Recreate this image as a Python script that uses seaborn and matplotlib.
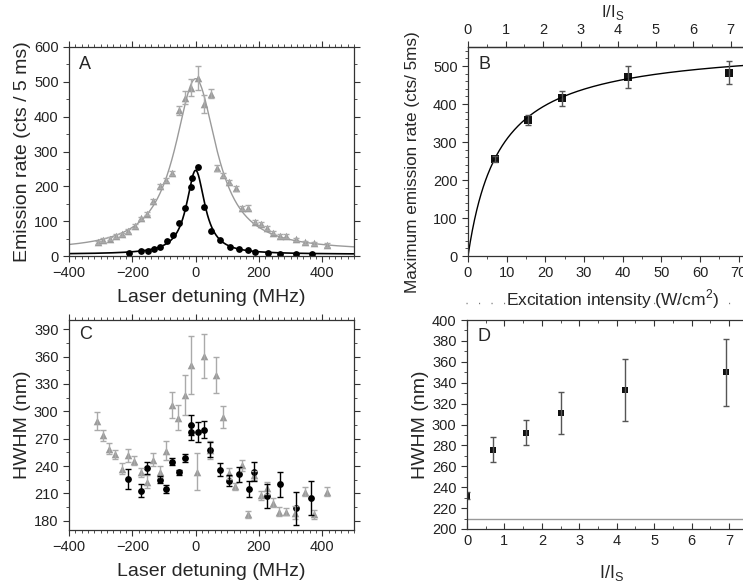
import numpy as np
import pandas as pd
import matplotlib
matplotlib.use("Agg")
import matplotlib.pyplot as plt
from matplotlib.ticker import MultipleLocator
from matplotlib.lines import Line2D
import seaborn as sns

# ---------------- data ----------------
# Panel A: emission rate vs detuning
a_black_x = [-212, -172, -152, -132, -112, -92, -73, -53, -33, -14, -12, 8, 27, 47, 77, 107, 137, 166, 187, 227, 267, 317, 366]
a_black_y = [8, 13, 15, 19, 27, 44, 59, 95, 139, 197, 223, 256, 141, 73, 47, 27, 20, 17, 12, 8, 7, 6, 5]
a_gray_x = [-309, -292, -272, -252, -233, -213, -193, -174, -154, -134, -113, -94, -74, -53, -33, -14, 6, 26, 47, 67, 87, 106, 126, 146, 166, 187, 206, 224, 245, 266, 285, 316, 345, 375, 414]
a_gray_y = [39, 46, 50, 57, 62, 72, 86, 108, 122, 159, 202, 218, 239, 418, 455, 483, 511, 436, 466, 253, 232, 213, 194, 138, 139, 99, 92, 80, 67, 57, 57, 48, 39, 36, 31]
a_gray_err = [5, 5, 5, 5, 5, 5, 5, 5, 5, 6, 6, 6, 6, 14, 20, 25, 35, 25, 12, 8, 6, 6, 6, 6, 6, 5, 5, 5, 5, 5, 5, 5, 5, 5, 5]
# Lorentzian fit parameters (amplitude, HWHM, offset)
a_black_fit = (241, 35, 5)
a_gray_fit = (495, 80, 14)

# Panel B: maximum emission rate vs intensity
b_int = [6.9, 15.6, 24.4, 41.3, 67.5]
b_rate = [255, 358, 415, 471, 482]
b_err = [8, 12, 20, 30, 30]
b_fit = (559, 8.2)          # Rmax, Isat (W/cm^2)
i_sat_axis = 9.7            # W/cm^2 per unit of I/Is

# Panel C: HWHM vs detuning
c_black_x = [-213, -173, -153, -113, -93, -74, -54, -33, -14, -14, 6, 26, 45, 77, 106, 137, 167, 185, 226, 266, 316, 365]
c_black_y = [226, 213, 238, 225, 215, 245, 233, 249, 285, 277, 277, 280, 258, 236, 224, 231, 215, 234, 207, 220, 194, 205]
c_black_err = [11, 7, 7, 4, 4, 4, 3, 4, 11, 8, 11, 9, 8, 7, 6, 8, 9, 10, 13, 14, 18, 19]
c_gray_x = [-313, -294, -274, -254, -234, -214, -194, -174, -154, -134, -114, -94, -75, -55, -35, -15, 5, 26, 45, 64, 85, 104, 124, 145, 166, 184, 205, 224, 245, 264, 284, 314, 344, 374, 414]
c_gray_y = [289, 274, 259, 253, 237, 252, 246, 233, 223, 247, 234, 257, 307, 293, 318, 351, 234, 361, 258, 340, 294, 232, 218, 241, 187, 230, 208, 216, 200, 190, 190, 189, 212, 187, 212]
c_gray_err = [10, 6, 6, 5, 6, 7, 5, 5, 7, 7, 6, 10, 14, 14, 22, 32, 20, 24, 10, 20, 12, 6, 4, 6, 4, 5, 5, 7, 5, 5, 4, 7, 5, 5, 5]

# Panel D: HWHM vs I/Is
d_x = [0.0, 0.70, 1.59, 2.51, 4.21, 6.93]
d_y = [232, 276, 292, 311, 333, 350]
d_err = [3, 12, 12, 20, 30, 32]
d_ref = 210

# ---------------- style ----------------
sns.set_style("ticks")
plt.rcParams["font.family"] = ["Liberation Sans", "DejaVu Sans"]
plt.rcParams["mathtext.fontset"] = "custom"
plt.rcParams["mathtext.rm"] = "Liberation Sans"
plt.rcParams["xtick.labelsize"] = 10.5
plt.rcParams["ytick.labelsize"] = 10.5
plt.rcParams["axes.linewidth"] = 0.9
plt.rcParams["axes.edgecolor"] = "#333333"

W, H = 743, 586
fig = plt.figure(figsize=(W / 100, H / 100), dpi=100)


def rect(l, t, r, b):
    return [l / W, 1 - b / H, (r - l) / W, (b - t) / H]


axA = fig.add_axes(rect(69, 47, 354, 256))
axB = fig.add_axes(rect(468, 47, 758, 256))
axC = fig.add_axes(rect(69, 320, 354, 530))
axD = fig.add_axes(rect(467, 320, 757, 529))

GRAY = "#9a9a9a"
EGRAY = "#aaaaaa"
XL = 14
YL = 14


def style(ax, top=True, right=True):
    ax.tick_params(which="both", direction="out", top=top, right=right, colors="#333333", labelcolor="#222222")
    ax.tick_params(which="major", length=4, width=0.8)
    ax.tick_params(which="minor", length=2, width=0.6)
    for s in ax.spines.values():
        s.set_visible(True)


def lorentz(x, p):
    a, g, c = p
    return a * g ** 2 / (x ** 2 + g ** 2) + c


# ---- Panel A ----
xs = np.linspace(-400, 500, 600)
sns.lineplot(x=xs, y=lorentz(xs, a_gray_fit), ax=axA, color=GRAY, lw=1.0)
sns.lineplot(x=xs, y=lorentz(xs, a_black_fit), ax=axA, color="black", lw=1.2)
axA.errorbar(a_gray_x, a_gray_y, yerr=a_gray_err, fmt="none", ecolor=EGRAY, elinewidth=1, capsize=2.5)
sns.scatterplot(x=a_gray_x, y=a_gray_y, ax=axA, marker="^", color=GRAY, s=30, edgecolor=GRAY, linewidth=0)
sns.scatterplot(x=a_black_x, y=a_black_y, ax=axA, marker="o", color="black", s=24, edgecolor="black", linewidth=0)
axA.set_xlim(-400, 500)
axA.set_ylim(0, 600)
axA.xaxis.set_major_locator(MultipleLocator(200))
axA.xaxis.set_minor_locator(MultipleLocator(20))
axA.yaxis.set_major_locator(MultipleLocator(100))
axA.yaxis.set_minor_locator(MultipleLocator(50))
axA.set_xlabel("Laser detuning (MHz)", fontsize=XL, labelpad=6)
axA.set_ylabel("Emission rate (cts / 5 ms)", fontsize=YL, labelpad=2)
axA.text(0.035, 0.955, "A", transform=axA.transAxes, fontsize=13, va="top", ha="left")
style(axA)

# ---- Panel B ----
xb = np.linspace(0, 75, 400)
sns.lineplot(x=xb, y=b_fit[0] * xb / (xb + b_fit[1]), ax=axB, color="black", lw=1.0)
axB.errorbar(b_int, b_rate, yerr=b_err, fmt="none", ecolor="#555555", elinewidth=1, capsize=2.5)
sns.scatterplot(x=b_int, y=b_rate, ax=axB, marker="s", color="#111111", s=26, edgecolor="#111111", linewidth=0)
axB.set_xlim(0, 75)
axB.set_ylim(0, 550)
axB.xaxis.set_major_locator(MultipleLocator(10))
axB.xaxis.set_minor_locator(MultipleLocator(5))
axB.yaxis.set_major_locator(MultipleLocator(100))
axB.yaxis.set_minor_locator(MultipleLocator(20))
axB.set_xlabel("Excitation intensity (W/cm$^\\mathregular{2}$)", fontsize=12.5, labelpad=5)
axB.set_ylabel("Maximum emission rate (cts/ 5ms)", fontsize=12.3)
axB.yaxis.set_label_coords(-0.165, 0.45)
axB.text(0.035, 0.955, "B", transform=axB.transAxes, fontsize=13, va="top", ha="left")
style(axB, top=False, right=False)
secB = axB.secondary_xaxis("top", functions=(lambda v: v / i_sat_axis, lambda v: v * i_sat_axis))
secB.xaxis.set_major_locator(MultipleLocator(1))
secB.xaxis.set_minor_locator(MultipleLocator(0.5))
secB.tick_params(which="both", direction="out", colors="#333333", labelcolor="#222222")
secB.tick_params(which="major", length=4)
secB.tick_params(which="minor", length=2)
secB.set_xlabel("I/I$_\\mathregular{S}$", fontsize=12, labelpad=4)

# ---- Panel C ----
axC.errorbar(c_gray_x, c_gray_y, yerr=c_gray_err, fmt="none", ecolor=EGRAY, elinewidth=1, capsize=2.5)
sns.scatterplot(x=c_gray_x, y=c_gray_y, ax=axC, marker="^", color=GRAY, s=30, edgecolor=GRAY, linewidth=0)
axC.errorbar(c_black_x, c_black_y, yerr=c_black_err, fmt="none", ecolor="black", elinewidth=1, capsize=2.5)
sns.scatterplot(x=c_black_x, y=c_black_y, ax=axC, marker="o", color="black", s=24, edgecolor="black", linewidth=0)
axC.set_xlim(-400, 500)
axC.set_ylim(170, 400)
axC.xaxis.set_major_locator(MultipleLocator(200))
axC.xaxis.set_minor_locator(MultipleLocator(20))
axC.yaxis.set_major_locator(MultipleLocator(30))
axC.yaxis.set_minor_locator(MultipleLocator(15))
axC.set_yticks(np.arange(180, 391, 30))
axC.set_xlabel("Laser detuning (MHz)", fontsize=XL, labelpad=6)
axC.set_ylabel("HWHM (nm)", fontsize=YL, labelpad=2)
axC.text(0.035, 0.97, "C", transform=axC.transAxes, fontsize=13, va="top", ha="left")
style(axC)

# ---- Panel D ----
axD.axhline(d_ref, color="#999999", lw=1.0)
axD.errorbar(d_x, d_y, yerr=d_err, fmt="none", ecolor="#555555", elinewidth=1, capsize=2.5)
sns.scatterplot(x=d_x, y=d_y, ax=axD, marker="s", color="#111111", s=22, edgecolor="#111111", linewidth=0)
axD.set_xlim(0, 7.75)
axD.set_ylim(200, 400)
axD.xaxis.set_major_locator(MultipleLocator(1))
axD.xaxis.set_minor_locator(MultipleLocator(0.5))
axD.yaxis.set_major_locator(MultipleLocator(20))
axD.yaxis.set_minor_locator(MultipleLocator(10))
axD.set_xlabel("I/I$_\\mathregular{S}$", fontsize=13, labelpad=11)
axD.set_ylabel("HWHM (nm)", fontsize=YL, labelpad=2)
axD.text(0.035, 0.96, "D", transform=axD.transAxes, fontsize=13, va="top", ha="left")
style(axD, right=False)
axD.tick_params(which="both", top=True, direction="in")
axD.tick_params(which="both", axis="y", direction="out")
axD.tick_params(which="both", axis="x", bottom=True)

# faint dotted tick row above panel D
fig.add_artist(Line2D([466 / W, 741 / W], [1 - 303 / H] * 2, color="#777777", lw=1.0,
                      linestyle=(0, (0.8, 8.2))))

fig.savefig("out.png", dpi=100)
